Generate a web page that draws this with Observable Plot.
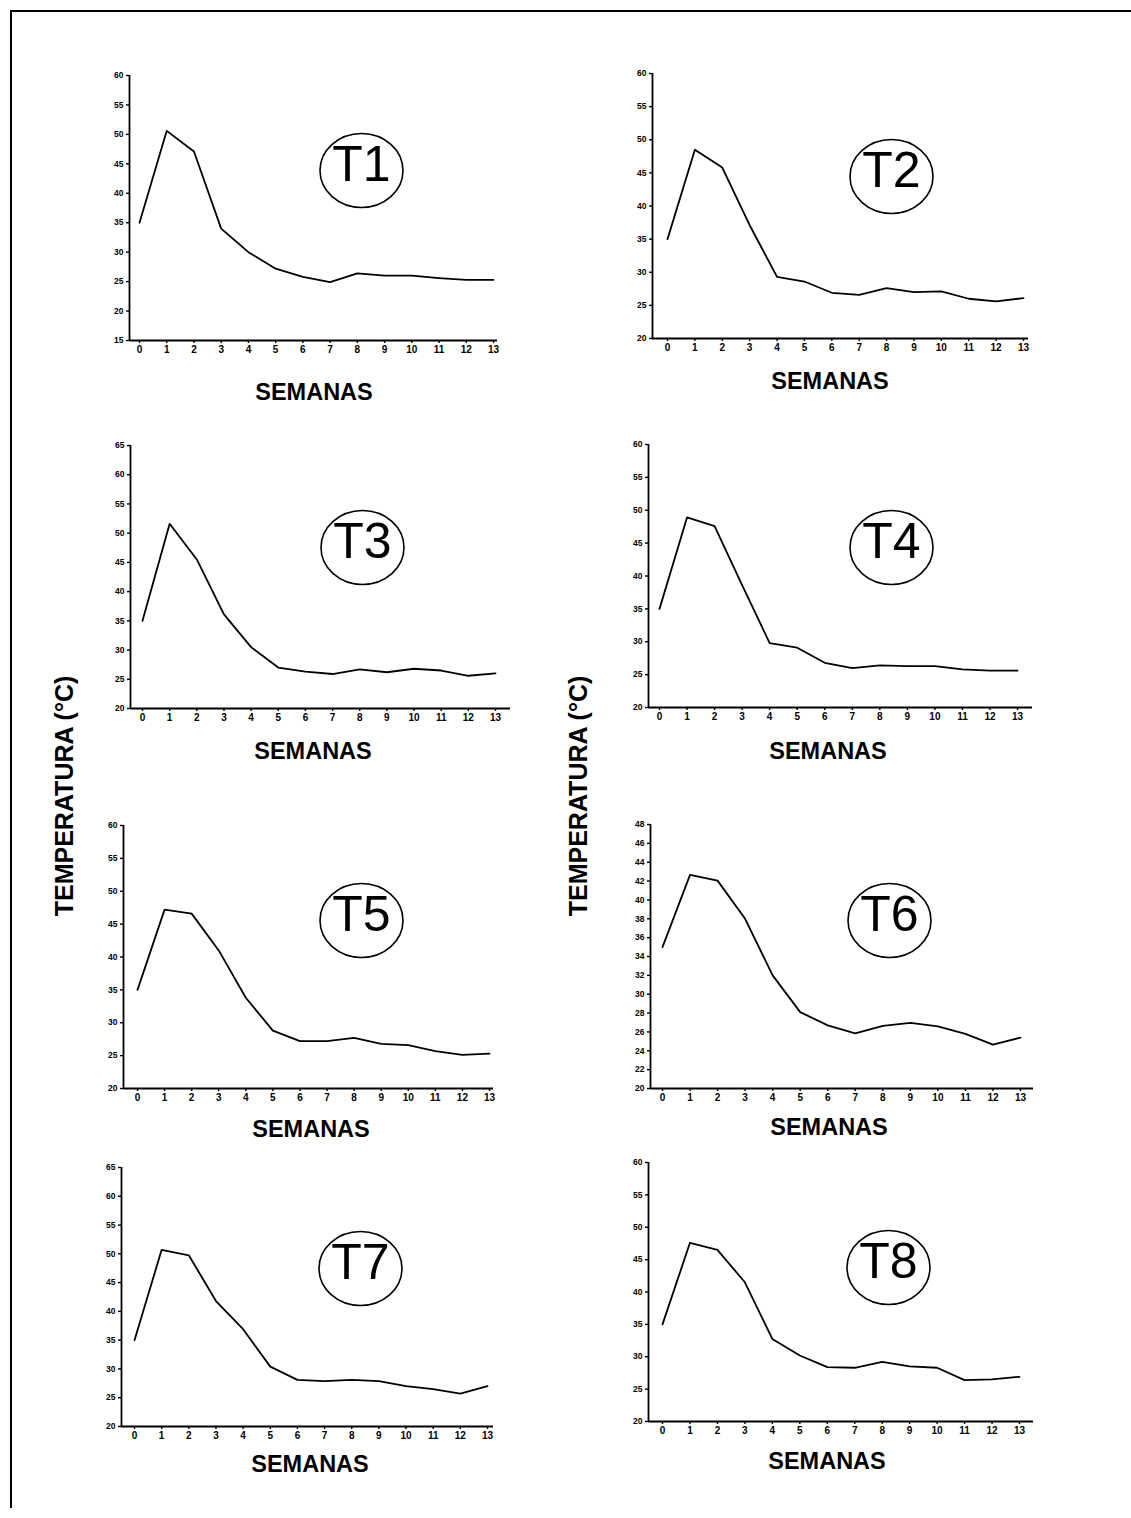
<!DOCTYPE html>
<html><head><meta charset="utf-8">
<script src="https://cdn.jsdelivr.net/npm/d3@7"></script>
<script src="https://cdn.jsdelivr.net/npm/@observablehq/plot@0.6"></script>
<style>
html,body{margin:0;padding:0;background:#fff;}
#wrap{position:relative;width:1131px;height:1518px;overflow:hidden;background:#fff;font-family:"Liberation Sans",Arial,sans-serif;}
.bt{position:absolute;left:10px;top:10px;width:1121px;height:2px;background:#000;}
.bl{position:absolute;left:10px;top:10px;width:2px;height:1498px;background:#000;}
.lab{position:absolute;font-weight:bold;color:#000;white-space:nowrap;transform:translate(-50%,-50%);line-height:1;}
</style></head><body><div id="wrap"><div class="bt"></div><div class="bl"></div></div>
<script>
// ---- data ----
const semanas = [0,1,2,3,4,5,6,7,8,9,10,11,12,13];
const tratamientos = ["T1","T2","T3","T4","T5","T6","T7","T8"];
const temp_T1 = [35, 50.6, 47.1, 34.0, 30.0, 27.2, 25.8, 24.9, 26.4, 26.0, 26.0, 25.6, 25.3, 25.3];
const temp_T2 = [35, 48.5, 45.8, 37.1, 29.3, 28.6, 26.9, 26.6, 27.6, 27.0, 27.1, 26.0, 25.6, 26.1];
const temp_T3 = [35, 51.6, 45.5, 36.1, 30.5, 27.0, 26.3, 25.9, 26.7, 26.2, 26.8, 26.5, 25.6, 26.0];
const temp_T4 = [35, 48.9, 47.6, 38.6, 29.8, 29.1, 26.8, 26.0, 26.4, 26.3, 26.3, 25.8, 25.6, 25.6];
const temp_T5 = [35, 47.2, 46.6, 41.0, 33.8, 28.8, 27.2, 27.2, 27.7, 26.8, 26.6, 25.7, 25.1, 25.3];
const temp_T6 = [35, 42.65, 42.05, 38.0, 32.0, 28.1, 26.7, 25.85, 26.65, 26.95, 26.6, 25.8, 24.65, 25.4];
const temp_T7 = [35, 50.7, 49.75, 41.8, 36.9, 30.4, 28.1, 27.9, 28.1, 27.9, 27.0, 26.5, 25.7, 27.0];
const temp_T8 = [35, 47.6, 46.5, 41.5, 32.75, 30.2, 28.4, 28.3, 29.2, 28.5, 28.3, 26.4, 26.5, 26.9];

const yTicks_T1 = [15,20,25,30,35,40,45,50,55,60];
const yTicks_T2 = [20,25,30,35,40,45,50,55,60];
const yTicks_T3 = [20,25,30,35,40,45,50,55,60,65];
const yTicks_T4 = [20,25,30,35,40,45,50,55,60];
const yTicks_T5 = [20,25,30,35,40,45,50,55,60];
const yTicks_T6 = [20,22,24,26,28,30,32,34,36,38,40,42,44,46,48];
const yTicks_T7 = [20,25,30,35,40,45,50,55,60,65];
const yTicks_T8 = [20,25,30,35,40,45,50,55,60];

const xTitle = "SEMANAS";
const yTitle = "TEMPERATURA (°C)";

const series = [temp_T1,temp_T2,temp_T3,temp_T4,temp_T5,temp_T6,temp_T7,temp_T8];
const yTicks = [yTicks_T1,yTicks_T2,yTicks_T3,yTicks_T4,yTicks_T5,yTicks_T6,yTicks_T7,yTicks_T8];

// ---- layout (page pixels) ----
const layout = [
  {ax:129, x0:139, x13:493, xend:497,  top:75,   bottom:340,  cx:361, cy:170,  sx:314, sy:393},
  {ax:652, x0:667, x13:1023, xend:1028, top:73,  bottom:338,  cx:891, cy:176,  sx:830, sy:382},
  {ax:130, x0:142, x13:495, xend:510,  top:445,  bottom:708,  cx:362, cy:547,  sx:313, sy:752},
  {ax:648, x0:659, x13:1017, xend:1032, top:444, bottom:707,  cx:891, cy:547,  sx:828, sy:752},
  {ax:123, x0:137, x13:489, xend:493,  top:825,  bottom:1088, cx:361, cy:920,  sx:311, sy:1130},
  {ax:650, x0:662, x13:1020, xend:1033, top:824, bottom:1088, cx:889, cy:920,  sx:829, sy:1128},
  {ax:121, x0:134, x13:487, xend:493,  top:1167, bottom:1426, cx:360, cy:1268, sx:310, sy:1465},
  {ax:648, x0:662, x13:1019, xend:1033, top:1162, bottom:1421, cx:888, cy:1267, sx:827, sy:1462}
];
const yTitlePos = [{x:64, y:796}, {x:578, y:796}];

const wrap = document.getElementById("wrap");
const FONT = '"Liberation Sans", Arial, sans-serif';
const mL = 42, mR = 12, mT = 12, mB = 26;

layout.forEach((L, i) => {
  const k = 13 / (L.x13 - L.x0);
  const dmin = -(L.x0 - L.ax) * k;
  const dmax = 13 + (L.xend - L.x13) * k;
  const yt = yTicks[i];
  const ymin = yt[0], ymax = yt[yt.length - 1];
  const rows = semanas.map((s, j) => ({semana: s, temp: series[i][j]}));
  const svg = Plot.plot({
    width: L.xend - L.ax + mL + mR,
    height: L.bottom - L.top + mT + mB,
    marginLeft: mL, marginRight: mR, marginTop: mT, marginBottom: mB,
    style: {background: "transparent", fontFamily: FONT, fontWeight: "bold", color: "#000", overflow: "visible"},
    x: {domain: [dmin, dmax]},
    y: {domain: [ymin, ymax]},
    marks: [
      Plot.axisY(yt, {tickSize: 3, tickPadding: 3, fontSize: 8.5, fontWeight: "bold", tickFormat: d => String(d), label: null, strokeWidth: 1.4}),
      Plot.axisX(semanas, {tickSize: 3, tickPadding: 2, fontSize: 10, fontWeight: "bold", tickFormat: d => String(d), label: null, strokeWidth: 1.4}),
      Plot.ruleX([dmin], {stroke: "#000", strokeWidth: 1.8}),
      Plot.ruleY([ymin], {stroke: "#000", strokeWidth: 1.8}),
      Plot.line(rows, {x: "semana", y: "temp", stroke: "#000", strokeWidth: 1.8}),
      Plot.dot([tratamientos[i]], {frameAnchor: "top-left", dx: L.cx - L.ax, dy: L.cy - L.top, r: 41.5, stroke: "#000", strokeWidth: 1.6, fill: "none"}),
      Plot.text([tratamientos[i]], {frameAnchor: "top-left", dx: L.cx - L.ax, dy: L.cy - L.top - 6, text: d => d, fontSize: 50, fontWeight: "normal", fontFamily: FONT, fill: "#000", textAnchor: "middle", lineAnchor: "middle"})
    ]
  });
  d3.select(svg).selectAll('g[aria-label="dot"] circle').each(function() {
    const cx = +this.getAttribute("cx") || 0, cy = +this.getAttribute("cy") || 0;
    this.setAttribute("transform", `translate(${cx},${cy}) scale(1,0.89) translate(${-cx},${-cy})`);
    this.setAttribute("vector-effect", "non-scaling-stroke");
  });
  svg.style.position = "absolute";
  svg.style.left = (L.ax - mL) + "px";
  svg.style.top = (L.top - mT) + "px";
  svg.style.maxWidth = "none";
  wrap.appendChild(svg);

  const s = document.createElement("div");
  s.className = "lab";
  s.textContent = xTitle;
  s.style.left = L.sx + "px";
  s.style.top = L.sy + "px";
  s.style.fontSize = "23.5px";
  wrap.appendChild(s);
});

yTitlePos.forEach(p => {
  const t = document.createElement("div");
  t.className = "lab";
  t.textContent = yTitle;
  t.style.left = p.x + "px";
  t.style.top = p.y + "px";
  t.style.fontSize = "25px";
  t.style.transform = "translate(-50%,-50%) rotate(-90deg)";
  wrap.appendChild(t);
});
</script>
</body></html>
